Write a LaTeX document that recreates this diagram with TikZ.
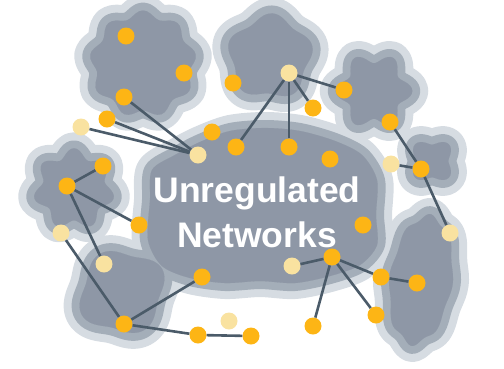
\documentclass[tikz,border=0pt]{standalone}
\usepackage{fontspec}
\setmainfont{Liberation Sans}
\usepackage{tikz}
\usetikzlibrary{calc,positioning,shapes}
\definecolor{halo}{HTML}{D6DCE2}
\definecolor{rim}{HTML}{A4AEB9}
\definecolor{core}{HTML}{8E97A6}
\definecolor{amber}{HTML}{FDB515}
\definecolor{cream}{HTML}{F9E2A0}
\definecolor{slate}{HTML}{4B5B69}
\tikzset{%
	dot/.style   = {circle, fill=amber, inner sep=0pt, minimum size=17pt}, % member
	faint/.style = {dot, fill=cream}, % loose member
	link/.style  = {draw=slate, line width=2.6pt}, % tie
	title/.style = {text=white, font=\bfseries\fontsize{35.5}{45}\selectfont, inner sep=0pt},
}

\begin{document}
\begin{tikzpicture}[x=1pt, y=-1pt]
	\useasboundingbox (0,0) rectangle (504,368);
	% clouds: halo, rim, core
	\foreach \lw/\col in {32/halo, 16/rim, 0.1/core}{
		\foreach \cx/\cy/\rad/\n/\amp/\rot/\xs in {143/64/50/9/0.07/10/1, 270/57/40/5/0.09/15/1,
			374/91/33/6/0.16/0/1, 432/161/20/4/0.18/45/1, 421/280/64/8/0.04/-8/0.48,
			74/189/36/7/0.13/90/1, 122/292/40/4/0.10/30/1.05}
			\filldraw[draw=\col, fill=\col, line width=\lw pt, line join=round, shift={(\cx,\cy)}, rotate=\rot, xscale=\xs]
				plot[domain=0:360, samples=91, variable=\ang] ({\rad*(1+\amp*cos(\n*\ang))*cos(\ang)}, {\rad*(1+\amp*cos(\n*\ang))*sin(\ang)}) -- cycle;
		\filldraw[draw=\col, fill=\col, line width=\lw pt, line join=round] plot[smooth cycle] coordinates {
			(150,200) (152,170) (175,155) (200,142) (230,131) (265,128) (300,131) (335,141) (362,155) (377,180)
			(376,215) (377,245) (360,265) (330,276) (295,283) (260,281) (225,283) (190,278) (162,266) (148,240)};
	}
	
	\node[title, anchor=base] (t1) at (257,202) {Unregulated};
	\node[title, anchor=base] (t2) at (257,247) {Networks};
	
	\node[dot] (tla) at (126,36) {};
	\node[dot] (tlb) at (184,73) {};
	\node[dot] (tlc) at (124,97) {};
	\node[dot] (tld) at (107,119) {};
	\node[faint] (pa) at (81,127) {};
	\node[faint] (hb) at (198,155) {};
	\node[dot] (ca) at (212,132) {};
	\node[dot] (cb) at (236,147) {};
	\node[dot] (cc) at (289,147) {};
	\node[dot] (cd) at (330,159) {};
	\node[dot] (tma) at (233,83) {};
	\node[faint] (tmb) at (289,73) {};
	\node[dot] (tmc) at (313,108) {};
	\node[dot] (rsa) at (344,90) {};
	\node[dot] (rsb) at (390,122) {};
	\node[faint] (sma) at (391,164) {};
	\node[dot] (smb) at (421,169) {};
	\node[faint] (rle) at (450,233) {};
	\node[dot] (lsa) at (103,166) {};
	\node[dot] (lsb) at (67,186) {};
	\node[dot] (ce) at (139,225) {};
	\node[faint] (lpa) at (61,233) {};
	\node[faint] (bla) at (104,264) {};
	\node[dot] (blb) at (124,324) {};
	\node[dot] (cf) at (202,277) {};
	\node[dot] (bda) at (198,335) {};
	\node[faint] (bdb) at (229,321) {};
	\node[dot] (bdc) at (251,336) {};
	\node[dot] (cg) at (363,225) {};
	\node[dot] (chub) at (332,257) {};
	\node[faint] (cpale) at (292,266) {};
	\node[dot] (rla) at (381,277) {};
	\node[dot] (rlb) at (417,283) {};
	\node[dot] (rlc) at (376,315) {};
	\node[dot] (rld) at (313,326) {};
	
	\draw[link] (tlc) -- (hb);
	\draw[link] (tld) -- (hb);
	\draw[link] (pa) -- (hb);
	\draw[link] (cb) -- (tmb);
	\draw[link] (cc) -- (tmb);
	\draw[link] (tmc) -- (tmb);
	\draw[link] (rsa) -- (tmb);
	\draw[link] (rsb) -- (smb);
	\draw[link] (sma) -- (smb);
	\draw[link] (smb) -- (rle);
	\draw[link] (lsb) -- (lsa);
	\draw[link] (lsb) -- (ce);
	\draw[link] (lsb) -- (bla);
	\draw[link] (lpa) -- (blb);
	\draw[link] (blb) -- (cf);
	\draw[link] (blb) -- (bda);
	\draw[link] (bda) -- (bdc);
	\draw[link] (chub) -- (cpale);
	\draw[link] (chub) -- (rla);
	\draw[link] (rla) -- (rlb);
	\draw[link] (chub) -- (rlc);
	\draw[link] (chub) -- (rld);
\end{tikzpicture}
\end{document}
